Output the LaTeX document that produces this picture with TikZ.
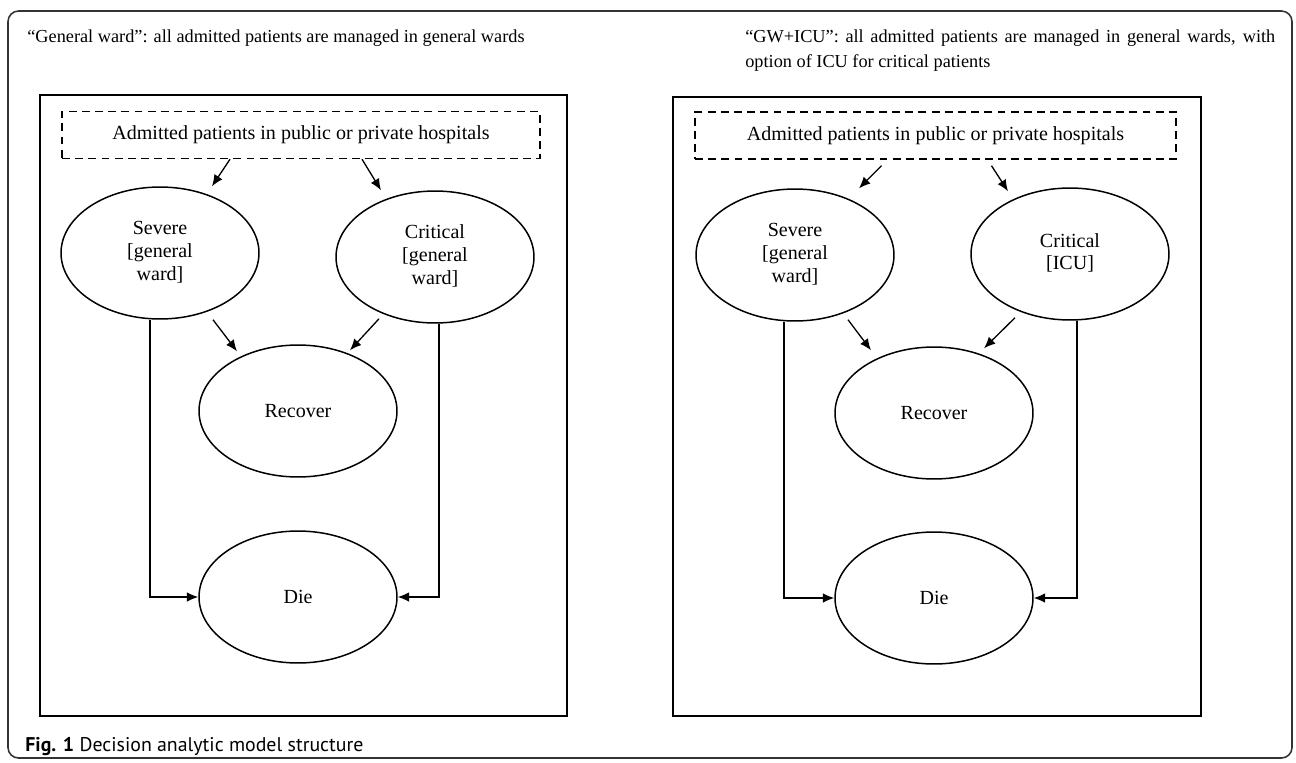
\documentclass[tikz,border=0pt]{standalone}
\usepackage{fontspec}
\setmainfont{Liberation Serif}
\setsansfont{PT Sans}
\usetikzlibrary{shapes.geometric, arrows.meta, positioning, calc}

\newcommand{\lines}[1]{\begin{tabular}{@{}c@{}}#1\end{tabular}}

\begin{document}
\begin{tikzpicture}[
  x=0.02cm, y=-0.02cm,
  every node/.style={font=\rmfamily\fontsize{11.4pt}{13pt}\selectfont},
  title/.style={inner sep=0pt, font=\rmfamily\fontsize{10.4pt}{14.6pt}\selectfont},
  panel/.style={draw, line width=1pt},
  admbox/.style={draw, dash pattern=on 4.5pt off 3pt, line width=0.8pt, minimum height=0.94cm, inner sep=0pt},
  state/.style={draw, ellipse, line width=0.85pt, minimum width=3.96cm, minimum height=2.64cm, inner sep=0pt},
  arr/.style={line width=0.75pt, -{Latex[length=6.5pt,width=5.5pt]}},
]
\useasboundingbox (0,0) rectangle (1296,762);
\draw[rounded corners=6pt, line width=0.9pt, black!80] (8,11) rectangle (1292,758);

\node[title, anchor=base west] (ttlL) at (27,42) {“General ward”: all admitted patients are managed in general wards};
\node[title, anchor=north west] (ttlR) at (745,29) {\parbox[t]{10.6cm}{\rmfamily “GW+ICU”: all admitted patients are managed in general wards, with option of ICU for critical patients}};

\draw[panel] (40,95) rectangle (567,716);
\draw[panel] (673,97) rectangle (1201,716);

\node[admbox, minimum width=9.56cm] (admL) at (301,135) {Admitted patients in public or private hospitals};
\node[state] (sevL) at (160,253) {\lines{Severe\\{}[general\\ward]}};
\node[state] (critL) at (435,257) {\lines{Critical\\{}[general\\ward]}};
\node[state] (recL) at (298,411) {Recover};
\node[state] (dieL) at (298,597) {Die};

\draw[arr] ($(admL.south)+(-71,0)$) -- ($(sevL.north)+(52,0)$);
\draw[arr] ($(admL.south)+(61,0)$) -- ($(critL.north)+(-54,0)$);
\draw[arr] ($(sevL.south)+(53,0)$) -- ($(recL.north)+(-61,7)$);
\draw[arr] ($(critL.south)+(-56,-5)$) -- ($(recL.north)+(52,6)$);
\draw[arr] ($(sevL.south)+(-10,0)$) |- (dieL.west);
\draw[arr] ($(critL.south)+(4,0)$) |- (dieL.east);

\node[admbox, minimum width=9.62cm] (admR) at (935.5,135.5) {Admitted patients in public or private hospitals};
\node[state] (sevR) at (795,255) {\lines{Severe\\{}[general\\ward]}};
\node[state] (critR) at (1070,254) {\lines{Critical\\{}[ICU]}};
\node[state] (recR) at (934,413) {Recover};
\node[state] (dieR) at (934,598) {Die};

\draw[arr] ($(admR.south)+(-54,6)$) -- ($(sevR.north)+(64,0)$);
\draw[arr] ($(admR.south)+(56,6)$) -- ($(critR.north)+(-62,4)$);
\draw[arr] ($(sevR.south)+(53,-2)$) -- ($(recR.north)+(-63,4)$);
\draw[arr] ($(critR.south)+(-55,-3)$) -- ($(recR.north)+(50,2)$);
\draw[arr] ($(sevR.south)+(-11,0)$) |- (dieR.west);
\draw[arr] ($(critR.south)+(7,0)$) |- (dieR.east);

\node[anchor=base west, inner sep=0pt, font=\sffamily\fontsize{11.3pt}{13pt}\selectfont] (cap) at (25,751) {\textbf{Fig. 1} Decision analytic model structure};
\end{tikzpicture}
\end{document}
